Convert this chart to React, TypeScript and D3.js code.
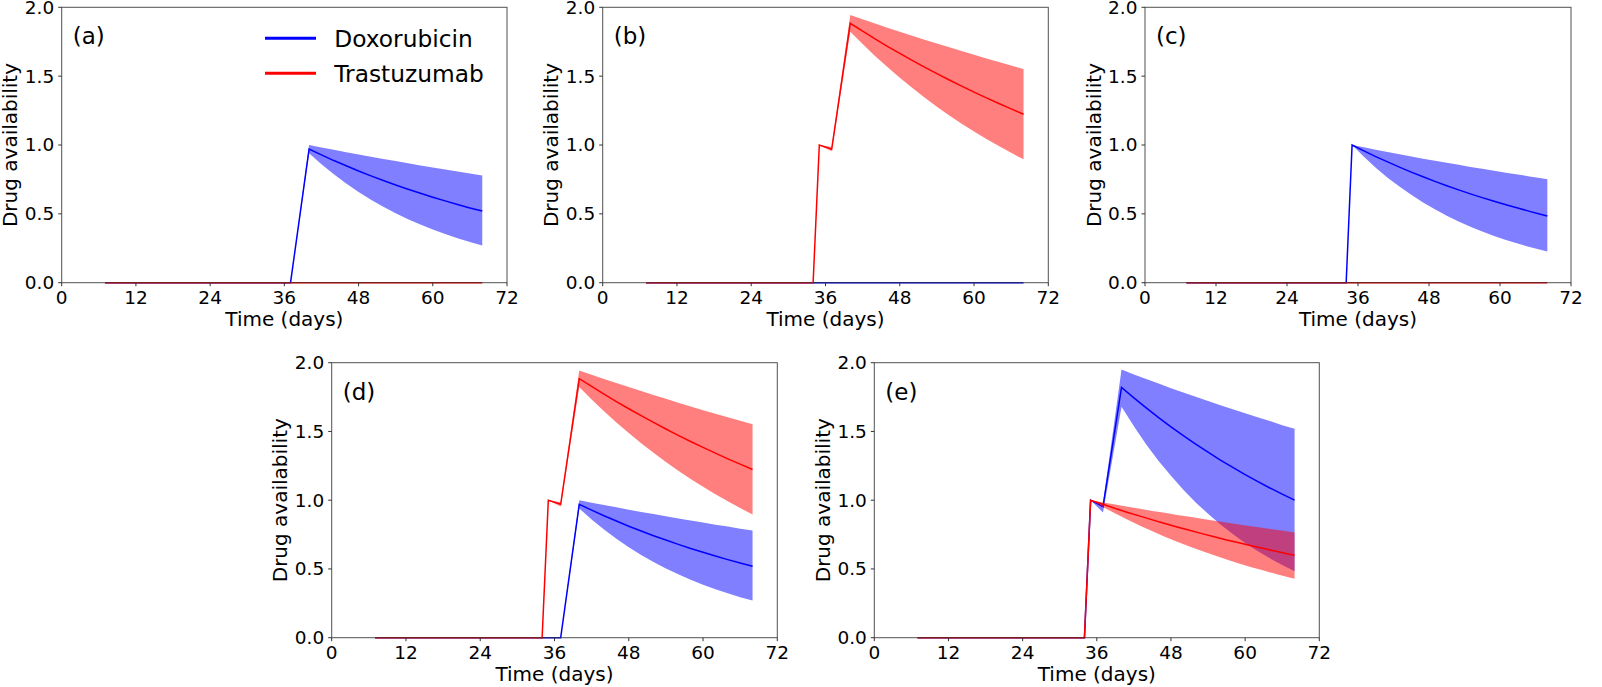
import React from 'react';
import * as d3 from 'd3';

// ---------- data ----------
const X_TICKS = [0, 12, 24, 36, 48, 60, 72];
const Y_TICKS = [0, 0.5, 1.0, 1.5, 2.0];
const PANEL_LABELS = ['(a)', '(b)', '(c)', '(d)', '(e)'];
const LEGEND_NAMES = ['Doxorubicin', 'Trastuzumab'];

// zero (no drug) series
const DAYS_ZERO = [7, 68];
const VAL_ZERO = [0, 0];

// Doxorubicin given late (panels a, d)
const DAYS_DOX_LATE = [7, 37, 40, 42, 44, 46, 48, 50, 52, 54, 56, 58, 60, 62, 64, 66, 68];
const DOX_LATE_MEAN = [0, 0, 0.970, 0.928, 0.887, 0.849, 0.811, 0.776, 0.742, 0.710, 0.679, 0.649, 0.621, 0.594, 0.568, 0.543, 0.520];
const DOX_LATE_UPPER = [0, 0, 1.000, 0.982, 0.965, 0.948, 0.931, 0.915, 0.899, 0.883, 0.867, 0.852, 0.837, 0.822, 0.808, 0.793, 0.779];
const DOX_LATE_LOWER = [0, 0, 0.940, 0.860, 0.787, 0.720, 0.658, 0.602, 0.551, 0.504, 0.461, 0.422, 0.386, 0.353, 0.323, 0.295, 0.270];

// Trastuzumab two doses (panels b, d)
const DAYS_TWO_DOSE = [7, 34, 35, 37, 40, 42, 44, 46, 48, 50, 52, 54, 56, 58, 60, 62, 64, 66, 68];
const TRA_MEAN = [0, 0, 1.000, 0.970, 1.884, 1.827, 1.771, 1.717, 1.665, 1.615, 1.566, 1.518, 1.472, 1.427, 1.384, 1.342, 1.301, 1.262, 1.223];
const TRA_UPPER = [0, 0, 1.000, 0.985, 1.944, 1.913, 1.882, 1.852, 1.823, 1.794, 1.765, 1.737, 1.709, 1.682, 1.655, 1.629, 1.603, 1.577, 1.552];
const TRA_LOWER = [0, 0, 1.000, 0.955, 1.823, 1.733, 1.647, 1.566, 1.488, 1.415, 1.345, 1.278, 1.215, 1.155, 1.098, 1.044, 0.992, 0.943, 0.896];

// single early dose (panels c, e-red)
const DAYS_EARLY = [7, 34, 35, 37, 39, 41, 43, 45, 47, 49, 51, 53, 55, 57, 59, 61, 63, 65, 67, 68];
const DOX_EARLY_MEAN = [0, 0, 1.000, 0.957, 0.916, 0.877, 0.839, 0.803, 0.769, 0.736, 0.704, 0.674, 0.645, 0.618, 0.591, 0.566, 0.542, 0.518, 0.496, 0.485];
const DOX_EARLY_UPPER = [0, 0, 1.000, 0.983, 0.966, 0.949, 0.933, 0.917, 0.901, 0.886, 0.871, 0.856, 0.841, 0.827, 0.813, 0.799, 0.785, 0.772, 0.758, 0.752];
const DOX_EARLY_LOWER = [0, 0, 1.000, 0.914, 0.835, 0.763, 0.698, 0.638, 0.583, 0.533, 0.487, 0.445, 0.407, 0.372, 0.340, 0.310, 0.284, 0.259, 0.237, 0.226];

const TRA_EARLY_MEAN = [0, 0, 1.000, 0.970, 0.940, 0.911, 0.884, 0.857, 0.831, 0.805, 0.781, 0.757, 0.734, 0.711, 0.690, 0.669, 0.648, 0.629, 0.609, 0.600];
const TRA_EARLY_UPPER = [0, 0, 1.000, 0.984, 0.968, 0.953, 0.937, 0.922, 0.908, 0.893, 0.879, 0.865, 0.851, 0.837, 0.824, 0.811, 0.798, 0.785, 0.772, 0.766];
const TRA_EARLY_LOWER = [0, 0, 1.000, 0.950, 0.903, 0.857, 0.815, 0.774, 0.735, 0.698, 0.664, 0.630, 0.599, 0.569, 0.540, 0.513, 0.488, 0.463, 0.440, 0.429];

// Doxorubicin two doses (panel e)
const DOX_TWO_MEAN = [0, 0, 1.000, 0.953, 1.820, 1.744, 1.671, 1.601, 1.534, 1.469, 1.408, 1.349, 1.292, 1.238, 1.186, 1.137, 1.089, 1.044, 1.000];
const DOX_TWO_UPPER = [0, 0, 1.000, 0.975, 1.950, 1.915, 1.882, 1.849, 1.815, 1.784, 1.753, 1.722, 1.691, 1.661, 1.632, 1.603, 1.576, 1.546, 1.519];
const DOX_TWO_LOWER = [0, 0, 1.000, 0.910, 1.680, 1.537, 1.406, 1.286, 1.177, 1.076, 0.984, 0.901, 0.824, 0.754, 0.689, 0.631, 0.577, 0.528, 0.483];

// ---------- build ----------
type Series = { days: number[]; mean: number[]; upper?: number[]; lower?: number[] };
const mk = (days: number[], mean: number[], upper?: number[], lower?: number[]): Series => ({ days, mean, upper, lower });

const ZERO = mk(DAYS_ZERO, VAL_ZERO);
const DOX_LATE = mk(DAYS_DOX_LATE, DOX_LATE_MEAN, DOX_LATE_UPPER, DOX_LATE_LOWER);
const TRA_TWO = mk(DAYS_TWO_DOSE, TRA_MEAN, TRA_UPPER, TRA_LOWER);
const DOX_EARLY = mk(DAYS_EARLY, DOX_EARLY_MEAN, DOX_EARLY_UPPER, DOX_EARLY_LOWER);
const TRA_EARLY = mk(DAYS_EARLY, TRA_EARLY_MEAN, TRA_EARLY_UPPER, TRA_EARLY_LOWER);
const DOX_TWO = mk(DAYS_TWO_DOSE, DOX_TWO_MEAN, DOX_TWO_UPPER, DOX_TWO_LOWER);

const PANELS = [
  { x0: 61.7, x1: 507, y0: 7.3, y1: 282.7, blue: DOX_LATE, red: ZERO, legend: true },
  { x0: 602.7, x1: 1048.3, y0: 7.3, y1: 282.7, blue: ZERO, red: TRA_TWO, legend: false },
  { x0: 1145, x1: 1571, y0: 7.3, y1: 282.7, blue: DOX_EARLY, red: ZERO, legend: false },
  { x0: 331.7, x1: 777.3, y0: 362.7, y1: 637.7, blue: DOX_LATE, red: TRA_TWO, legend: false },
  { x0: 874.3, x1: 1319.3, y0: 362.7, y1: 637.7, blue: DOX_TWO, red: TRA_EARLY, legend: false },
];

const BLUE = '#0000ff';
const RED = '#ff0000';
const FONT = 'DejaVu Sans, Verdana, sans-serif';

function Panel({ p, idx }: { p: any; idx: number }) {
  const x = d3.scaleLinear().domain([0, 72]).range([p.x0, p.x1]);
  const y = d3.scaleLinear().domain([0, 2]).range([p.y1, p.y0]);
  const line = (s: Series) =>
    d3.line<number>().x((_, i) => x(s.days[i])).y((v) => y(v))(s.mean) || '';
  const area = (s: Series) =>
    s.upper && s.lower
      ? d3
          .area<number>()
          .x((_, i) => x(s.days[i]))
          .y0((_, i) => y(s.lower![i]))
          .y1((v) => y(v))(s.upper) || ''
      : '';
  const spine = '#333';
  return (
    <g>
      {p.blue.upper && <path d={area(p.blue)} fill={BLUE} fillOpacity={0.5} stroke="none" />}
      <path d={line(p.blue)} fill="none" stroke={BLUE} strokeWidth={1.5} />
      {p.red.upper && <path d={area(p.red)} fill={RED} fillOpacity={0.5} stroke="none" />}
      <path d={line(p.red)} fill="none" stroke={RED} strokeWidth={1.5} />
      {/* spines */}
      <rect x={p.x0} y={p.y0} width={p.x1 - p.x0} height={p.y1 - p.y0} fill="none" stroke={spine} strokeWidth={1} strokeOpacity={0.85} />
      {/* x ticks */}
      {X_TICKS.map((t) => (
        <g key={'x' + t}>
          <line x1={x(t)} x2={x(t)} y1={p.y1} y2={p.y1 + 3.5} stroke={spine} strokeWidth={1} />
          <text x={x(t)} y={p.y1 + 21.6} textAnchor="middle" fontSize={18.5} fontFamily={FONT} fill="#000">
            {t}
          </text>
        </g>
      ))}
      {Y_TICKS.map((t) => (
        <g key={'y' + t}>
          <line x1={p.x0 - 3.5} x2={p.x0} y1={y(t)} y2={y(t)} stroke={spine} strokeWidth={1} />
          <text x={p.x0 - 7.5} y={y(t)} dy="0.35em" textAnchor="end" fontSize={18.5} fontFamily={FONT} fill="#000">
            {t.toFixed(1)}
          </text>
        </g>
      ))}
      <text x={(p.x0 + p.x1) / 2} y={p.y1 + 43} textAnchor="middle" fontSize={20} fontFamily={FONT} fill="#000">
        Time (days)
      </text>
      <text
        transform={`translate(${p.x0 - 44.4},${(p.y0 + p.y1) / 2}) rotate(-90)`}
        textAnchor="middle"
        fontSize={20}
        fontFamily={FONT}
        fill="#000"
      >
        Drug availability
      </text>
      <text x={p.x0 + 11} y={p.y0 + 37} fontSize={23} fontFamily={FONT} fill="#000">
        {PANEL_LABELS[idx]}
      </text>
      {p.legend && (
        <g>
          {LEGEND_NAMES.map((name, i) => (
            <g key={name}>
              <line x1={265} x2={316} y1={38.3 + i * 35} y2={38.3 + i * 35} stroke={i === 0 ? BLUE : RED} strokeWidth={3} />
              <text x={334.3} y={47.2 + i * 35} fontSize={23.3} fontFamily={FONT} fill="#000">
                {name}
              </text>
            </g>
          ))}
        </g>
      )}
    </g>
  );
}

export default function App() {
  return (
    <svg
      width={1602}
      height={687}
      style={{ position: 'absolute', left: 0, top: 0, background: '#fff' }}
      xmlns="http://www.w3.org/2000/svg"
    >
      <rect x={0} y={0} width={1602} height={687} fill="#fff" />
      {PANELS.map((p, i) => (
        <Panel key={i} p={p} idx={i} />
      ))}
    </svg>
  );
}
